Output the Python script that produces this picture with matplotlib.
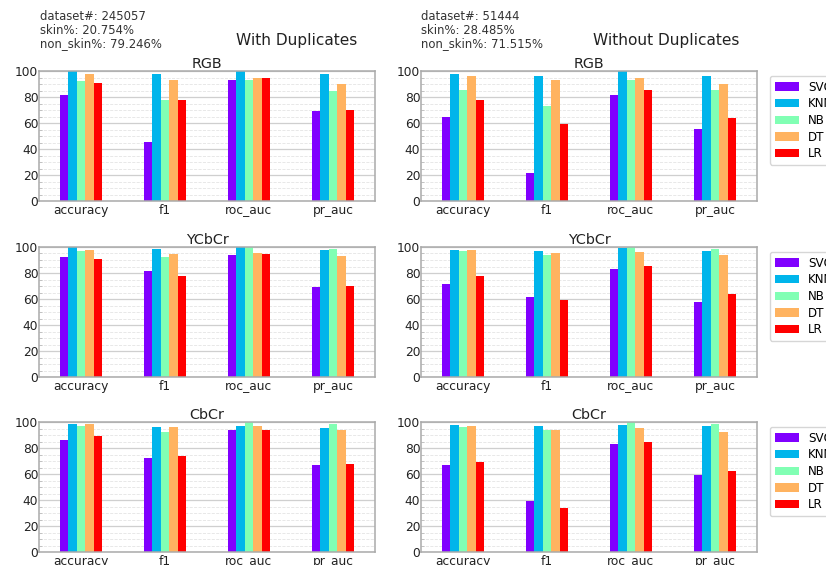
import numpy as np
import matplotlib
matplotlib.use("Agg")
import matplotlib.pyplot as plt
from matplotlib.ticker import MultipleLocator
import pandas as pd

metrics = ["accuracy", "f1", "roc_auc", "pr_auc"]
models = ["SVC", "KNN", "NB", "DT", "LR"]

# values per model, in metric order (percent)
rgb_dup = {
    "SVC": [81.8, 45.6, 93.3, 69.0],
    "KNN": [99.9, 97.7, 99.9, 97.7],
    "NB": [92.3, 77.4, 93.3, 84.4],
    "DT": [97.7, 93.1, 94.6, 90.3],
    "LR": [90.8, 77.7, 94.9, 70.3],
}
ycbcr_dup = {
    "SVC": [92.1, 81.8, 94.1, 69.0],
    "KNN": [99.9, 98.5, 99.9, 97.7],
    "NB": [96.9, 92.3, 99.8, 98.2],
    "DT": [97.7, 94.9, 95.4, 92.8],
    "LR": [90.5, 77.4, 94.6, 70.3],
}
cbcr_dup = {
    "SVC": [86.2, 72.3, 94.1, 66.9],
    "KNN": [98.5, 95.9, 96.9, 95.4],
    "NB": [97.2, 92.1, 99.9, 98.2],
    "DT": [98.5, 95.9, 96.9, 94.1],
    "LR": [89.5, 73.6, 93.6, 67.7],
}
rgb_nodup = {
    "SVC": [64.9, 21.8, 81.5, 55.1],
    "KNN": [97.7, 96.2, 99.9, 96.2],
    "NB": [85.4, 73.1, 92.8, 85.6],
    "DT": [96.2, 93.1, 94.6, 90.3],
    "LR": [77.9, 59.0, 85.6, 63.8],
}
ycbcr_nodup = {
    "SVC": [71.3, 61.5, 82.8, 57.7],
    "KNN": [97.7, 96.9, 99.0, 96.7],
    "NB": [96.7, 94.1, 99.7, 98.5],
    "DT": [97.4, 95.6, 96.2, 94.1],
    "LR": [77.9, 59.0, 85.6, 63.8],
}
cbcr_nodup = {
    "SVC": [66.9, 39.5, 83.3, 59.0],
    "KNN": [97.7, 96.7, 97.9, 96.7],
    "NB": [96.2, 93.6, 99.7, 98.5],
    "DT": [96.7, 94.1, 95.4, 92.6],
    "LR": [69.5, 33.8, 84.6, 62.1],
}

spaces = ["RGB", "YCbCr", "CbCr"]
info_dup = "dataset#: 245057\nskin%: 20.754%\nnon_skin%: 79.246%"
info_nodup = "dataset#: 51444\nskin%: 28.485%\nnon_skin%: 71.515%"

W, H = 826, 565
fig = plt.figure(figsize=(W / 100, H / 100), dpi=100)

col_left = [39, 421]
col_width = 336
row_top = [71, 247, 422]
row_height = 130

panels = [[rgb_dup, rgb_nodup], [ycbcr_dup, ycbcr_nodup], [cbcr_dup, cbcr_nodup]]
colors = plt.cm.rainbow(np.linspace(0, 1, len(models)))

for r in range(3):
    for c in range(2):
        x0 = col_left[c] / W
        y0 = 1 - (row_top[r] + row_height) / H
        ax = fig.add_axes([x0, y0, col_width / W, row_height / H])
        df = pd.DataFrame(panels[r][c], index=metrics)[models]
        df.plot(kind="bar", ax=ax, color=colors, legend=False, rot=0, width=0.5)
        ax.set_ylim(0, 100)
        ax.yaxis.set_major_locator(MultipleLocator(20))
        ax.yaxis.set_minor_locator(MultipleLocator(5))
        ax.set_axisbelow(True)
        ax.grid(axis="y", which="major", color="#cfcfcf", linewidth=0.9)
        ax.grid(axis="y", which="minor", color="#e4e4e4", linewidth=0.6, linestyle="--")
        ax.tick_params(axis="both", which="major", length=0,
                       labelsize=8.8, labelcolor="#222222")
        ax.tick_params(axis="x", which="major", pad=2)
        ax.tick_params(axis="y", which="major", pad=0.5)
        ax.tick_params(axis="y", which="minor", length=2, direction="in", color="#bbbbbb")
        for s in ax.spines.values():
            s.set_color("#aaaaaa")
            s.set_linewidth(1.1)
        ax.set_title(spaces[r], fontsize=10.4, pad=1.5, color="#222222")
        if c == 1:
            handles, labels = ax.get_legend_handles_labels()
            fig.legend(handles, labels, loc="upper left",
                       bbox_to_anchor=(770 / W, 1 - (row_top[r] + 5) / H),
                       bbox_transform=fig.transFigure, borderaxespad=0,
                       fontsize=8.6, frameon=True, edgecolor="#cccccc",
                       fancybox=True, handlelength=2.0, labelspacing=0.3)

fig.text(40 / W, 1 - 10 / H, info_dup, fontsize=8.4, va="top", ha="left",
         color="#333333", linespacing=1.05)
fig.text(421 / W, 1 - 10 / H, info_nodup, fontsize=8.4, va="top", ha="left",
         color="#333333", linespacing=1.05)
fig.text(297 / W, 1 - 40 / H, "With Duplicates", fontsize=11.1, ha="center",
         va="center", color="#222222")
fig.text(666 / W, 1 - 40 / H, "Without Duplicates", fontsize=11.1, ha="center",
         va="center", color="#222222")

fig.savefig("out.png", dpi=100)
